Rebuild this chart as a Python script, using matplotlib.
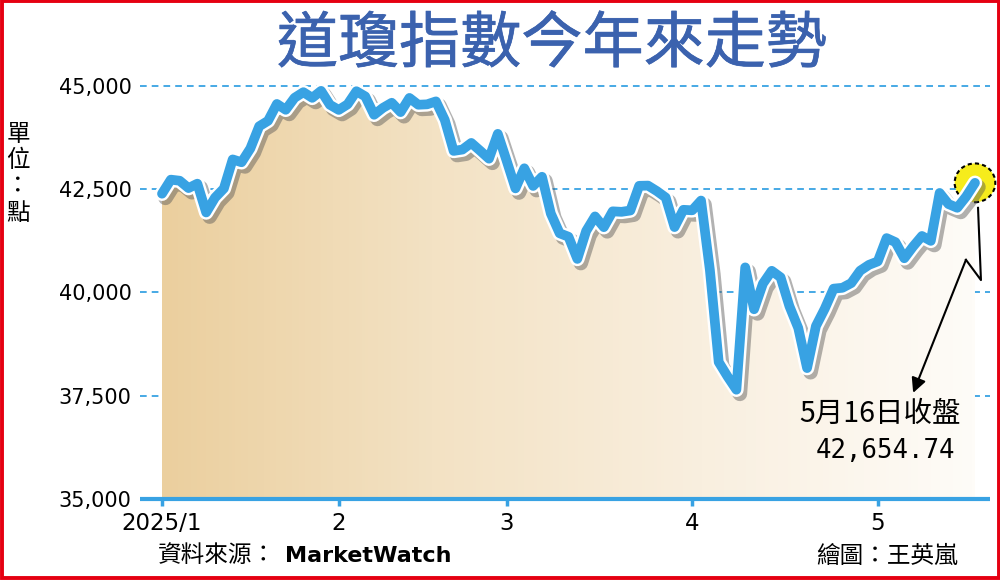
import numpy as np
import pandas as pd
import matplotlib
matplotlib.use("Agg")
import matplotlib.pyplot as plt
import matplotlib.transforms as mtransforms
from matplotlib import patheffects as pe
from matplotlib.colors import LinearSegmentedColormap
from matplotlib.patches import Ellipse, FancyArrowPatch, Rectangle
from matplotlib.lines import Line2D

# 道瓊收盤 (2025/1/2 ~ 2025/5/16, 交易日)
holidays = ["2025-01-09", "2025-01-20", "2025-02-17", "2025-04-18"]
dates = pd.bdate_range("2025-01-02", "2025-05-16").drop(pd.to_datetime(holidays))

closes = [
    # 1月
    42392, 42732, 42706, 42528, 42635, 41938, 42297, 42518, 43222, 43153,
    43488, 44025, 44157, 44565, 44424, 44714, 44850, 44713, 44882, 44545,
    # 2月
    44421, 44556, 44873, 44748, 44303, 44470, 44594, 44368, 44711, 44546,
    44556, 44627, 44177, 43428, 43461, 43621, 43433, 43240, 43841,
    # 3月
    43191, 42521, 43007, 42580, 42802, 41912, 41433, 41350, 40813, 41489,
    41842, 41582, 41965, 41953, 41985, 42583, 42588, 42455, 42300, 41584, 42002,
    # 4月
    41990, 42226, 40546, 38315, 37966, 37646, 40608, 39594, 40213, 40525,
    40368, 39669, 39142, 38170, 39187, 39607, 40093, 40114, 40228, 40527, 40669,
    # 5月
    40753, 41317, 41219, 40829, 41114, 41368, 41250, 42410, 42141, 42051,
    42323, 42654.74,
]

y_ticks = [35000, 37500, 40000, 42500, 45000]
month_labels = ["2025/1", "2", "3", "4", "5"]

title = "道瓊指數今年來走勢"
unit = "單位：點"
source = "資料來源："
source_name = "MarketWatch"
credit = "繪圖：王英嵐"

blue = "#38a2e3"
title_blue = "#3b62ae"
cjk = ["Noto Sans CJK TC", "DejaVu Sans"]

x = np.arange(len(closes))
vals = np.array(closes)
month_pos = [i for i in range(len(dates)) if i == 0 or dates[i].month != dates[i - 1].month]

fig = plt.figure(figsize=(10, 5.8), dpi=100)
ax = fig.add_axes([0.14, 1 - 499 / 580, 0.85, 429 / 580])
ax.set_facecolor("none")
x0, x1 = -2.49, 93.7
y0, y1 = 35000, 45387

# 虛線格線
ax.hlines(y_ticks[1:], x0, x1, colors=blue, linestyles=(0, (3.7, 2.8)), lw=1.3, zorder=1)

# 漸層面積
cmap = LinearSegmentedColormap.from_list("fill", ["#ebcf9e", "#f3e2c4", "#f9efdf", "#fefcf8"])
grad = np.linspace(0, 1, 256).reshape(1, -1)
im = ax.imshow(grad, extent=[x[0], x[-1], y0, y1], aspect="auto", cmap=cmap, zorder=2)
poly = ax.fill_between(x, vals, y0, color="none", lw=0)
im.set_clip_path(poly.get_paths()[0], transform=ax.transData)

# 最後一點的黃色圓
ax.add_patch(Ellipse((x[-1], vals[-1]), 4.6, 940, fc="#f6ec1c", ec="black",
                     ls=(0, (2, 1.5)), lw=1.5, zorder=3, clip_on=False))

ax.plot(x, vals, color=blue, lw=7, solid_joinstyle="round", solid_capstyle="round", zorder=4,
        path_effects=[pe.SimpleLineShadow(offset=(2.5, -3), shadow_color="#555555", alpha=0.45, linewidth=10.5),
                      pe.Stroke(linewidth=10.5, foreground="white"), pe.Normal()])

# x 軸
ax.hlines(y0, x0, x1, colors=blue, lw=3, zorder=5, clip_on=False)
ax.set_xlim(x0, x1)
ax.set_ylim(y0, y1)
for s in ax.spines.values():
    s.set_visible(False)
ax.set_xticks(month_pos)
ax.set_xticklabels(month_labels, fontsize=16.5, family="DejaVu Sans")
ax.tick_params(axis="x", length=5, width=2.5, color=blue, pad=4)
ax.set_yticks(y_ticks)
ax.set_yticklabels([f"{v:,}" for v in y_ticks], fontsize=15, family="DejaVu Sans")
ax.tick_params(axis="y", length=0, pad=6)

# 標註
trans = mtransforms.Affine2D().scale(fig.dpi / 72) + mtransforms.ScaledTranslation(x[-1], vals[-1], ax.transData)
ax.add_line(Line2D([2.2, 4.3, -6.5], [-18, -70, -55.4], transform=trans, color="black", lw=1.5,
                   clip_on=False, zorder=6))
ax.add_patch(FancyArrowPatch((-6.5, -55.4), (-44.5, -151.2), transform=trans, arrowstyle="-|>",
                             mutation_scale=22, lw=1.5, color="black", shrinkA=0, shrinkB=0,
                             clip_on=False, zorder=6))
last = dates[-1]
ax.annotate(f"{last.month}月{last.day}日收盤", (x[-1], vals[-1]), xytext=(-10, -166),
            textcoords="offset points", ha="right", va="center", fontsize=20.5, family=cjk)
ax.annotate(f"{vals[-1]:,.2f}", (x[-1], vals[-1]), xytext=(-14, -193),
            textcoords="offset points", ha="right", va="center", fontsize=18.5, family="DejaVu Sans Mono")

fig.text(0.552, 1 - 45 / 580, title, ha="center", va="center", fontsize=44,
         color=title_blue, family=cjk,
         path_effects=[pe.withStroke(linewidth=0.5, foreground=title_blue)])
fig.text(0.018, 1 - 174 / 580, "\n".join(unit), ha="center", va="center", fontsize=17,
         family=cjk, linespacing=1.2)
fig.text(0.158, 1 - 556 / 580, source, ha="left", va="center", fontsize=17, family=cjk)
fig.text(0.285, 1 - 556 / 580, source_name, ha="left", va="center", fontsize=16, fontweight="bold",
         family="DejaVu Sans")
fig.text(0.958, 1 - 556 / 580, credit, ha="right", va="center", fontsize=17, family=cjk)

fig.add_artist(Rectangle((0.0015, 0.0026), 0.997, 0.995, transform=fig.transFigure,
                         fill=False, ec="#e50012", lw=2.8))

fig.savefig("out.png", dpi=100)
